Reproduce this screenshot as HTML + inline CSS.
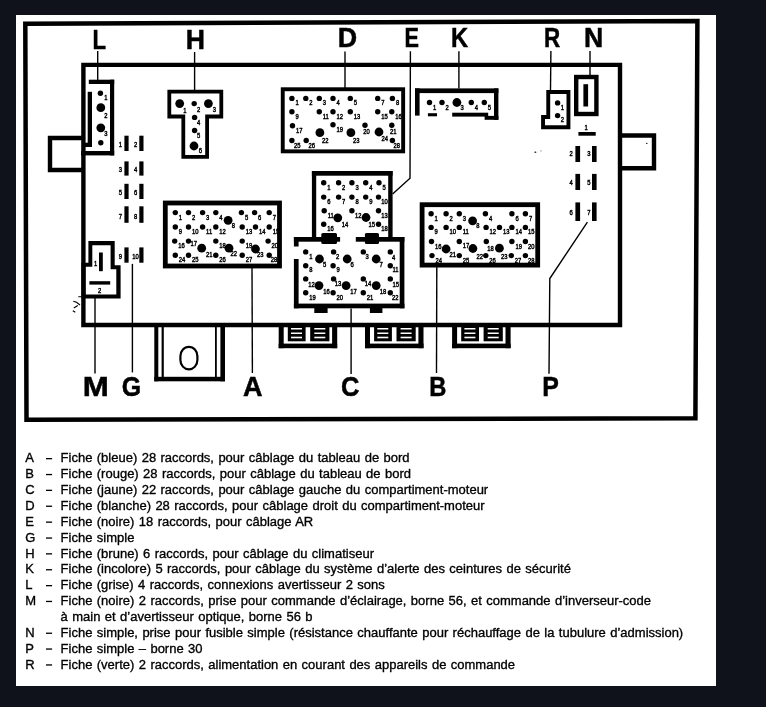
<!DOCTYPE html><html><head><meta charset="utf-8"><style>
html,body{margin:0;padding:0;background:#0f121a;width:766px;height:707px;overflow:hidden}
svg{display:block;will-change:transform}
text{font-family:"Liberation Sans",sans-serif;fill:#000}
.big{font-weight:bold;font-size:27px;stroke:#000;stroke-width:0.5px}
.pl{stroke:#000;stroke-width:0.45px}
.leg{font-size:13.5px;word-spacing:0.83px;stroke:#000;stroke-width:0.35px}
</style></head><body>
<svg width="766" height="707" viewBox="0 0 766 707">
<rect x="0" y="0" width="766" height="707" fill="#0f121a"/>
<rect x="16" y="15" width="700" height="671" fill="#fff"/>
<g fill="#000">
<path d="M25.3,23.7 L697.4,21.1 L695.4,418.3 L26.5,419.7 Z" fill="none" stroke="#000" stroke-width="4.5" stroke-linejoin="miter"/>
<path d="M83.4,64.9 H620 V325 H83.4 Z M620,135.5 H654 V168.2 H620 M83.4,170 H50 V138 H83.4" fill="none" stroke="#000" stroke-width="4.4"/>
<text transform="translate(92.57,49.20) scale(0.820,1)" class="big">L</text>
<text transform="translate(185.77,48.60) scale(0.987,1)" class="big">H</text>
<text transform="translate(337.76,47.40) scale(0.994,1)" class="big">D</text>
<text transform="translate(404.51,47.20) scale(0.803,1)" class="big">E</text>
<text transform="translate(450.97,47.10) scale(0.879,1)" class="big">K</text>
<text transform="translate(544.06,46.90) scale(0.830,1)" class="big">R</text>
<text transform="translate(583.97,46.60) scale(0.987,1)" class="big">N</text>
<text transform="translate(82.86,395.80) scale(1.159,1)" class="big">M</text>
<text transform="translate(121.83,395.80) scale(0.923,1)" class="big">G</text>
<text transform="translate(243.05,395.80) scale(1.000,1)" class="big">A</text>
<text transform="translate(341.11,395.80) scale(0.943,1)" class="big">C</text>
<text transform="translate(429.17,395.80) scale(0.879,1)" class="big">B</text>
<text transform="translate(542.29,395.80) scale(0.922,1)" class="big">P</text>
<path d="M97.7,51.0 L97.7,80.0" fill="none" stroke="#000" stroke-width="1.4"/>
<path d="M194.6,52.0 L194.6,90.0" fill="none" stroke="#000" stroke-width="1.4"/>
<path d="M345.0,51.4 L345.0,88.0" fill="none" stroke="#000" stroke-width="1.4"/>
<path d="M410.4,51.3 L410.0,178.3 L392.6,194.0" fill="none" stroke="#000" stroke-width="1.4"/>
<path d="M458.9,51.3 L458.9,88.4" fill="none" stroke="#000" stroke-width="1.4"/>
<path d="M550.9,51.1 L550.5,90.0" fill="none" stroke="#000" stroke-width="1.4"/>
<path d="M590.0,51.0 L590.0,75.0" fill="none" stroke="#000" stroke-width="1.4"/>
<path d="M95.0,297.0 L95.0,373.5" fill="none" stroke="#000" stroke-width="1.4"/>
<path d="M132.4,263.9 L132.4,372.4" fill="none" stroke="#000" stroke-width="1.4"/>
<path d="M252.0,268.0 L252.4,373.1" fill="none" stroke="#000" stroke-width="1.4"/>
<path d="M351.1,308.5 L351.1,374.0" fill="none" stroke="#000" stroke-width="1.4"/>
<path d="M436.8,267.0 L436.5,373.0" fill="none" stroke="#000" stroke-width="1.4"/>
<path d="M587.4,222.1 L549.8,278.5 L549.0,373.8" fill="none" stroke="#000" stroke-width="1.4"/>
<rect x="88.8" y="79.7" width="25.4" height="4.3"/>
<rect x="110.0" y="79.7" width="4.2" height="75.7"/>
<rect x="81.0" y="151.0" width="33.2" height="4.4"/>
<rect x="87.7" y="91.8" width="4.3" height="55.2"/>
<rect x="83.0" y="142.7" width="9.0" height="4.3"/>
<circle cx="100.4" cy="93.3" r="2.7"/>
<circle cx="100.8" cy="107.7" r="4.4"/>
<circle cx="100.8" cy="127.8" r="4.4"/>
<circle cx="100.8" cy="142.7" r="2.7"/>
<text transform="translate(104.2,100.0) scale(0.8,1)" font-size="7.3" class="pl">1</text>
<text transform="translate(104.2,118.3) scale(0.8,1)" font-size="7.3" class="pl">2</text>
<text transform="translate(104.2,136.3) scale(0.8,1)" font-size="7.3" class="pl">3</text>
<path d="M167.4,89.8 L223.2,89.8 L223.2,118.4 L209.0,118.4 L209.0,158.8 L181.4,158.8 L181.4,118.4 L167.4,118.4Z M171.2,93.6 L219.4,93.6 L219.4,114.6 L205.2,114.6 L205.2,155.0 L185.2,155.0 L185.2,114.6 L171.2,114.6Z" fill-rule="evenodd"/>
<circle cx="179.7" cy="103.6" r="4.4"/>
<circle cx="194.2" cy="103.6" r="2.7"/>
<circle cx="208.4" cy="103.6" r="4.4"/>
<circle cx="194.6" cy="117.4" r="2.7"/>
<circle cx="194.6" cy="130.5" r="2.7"/>
<circle cx="194.0" cy="146.0" r="4.4"/>
<text transform="translate(183.3,112.8) scale(0.8,1)" font-size="7.3" class="pl">1</text>
<text transform="translate(197.0,112.0) scale(0.8,1)" font-size="7.3" class="pl">2</text>
<text transform="translate(212.8,112.0) scale(0.8,1)" font-size="7.3" class="pl">3</text>
<text transform="translate(197.0,124.5) scale(0.8,1)" font-size="7.3" class="pl">4</text>
<text transform="translate(197.0,137.6) scale(0.8,1)" font-size="7.3" class="pl">5</text>
<text transform="translate(198.8,153.0) scale(0.8,1)" font-size="7.3" class="pl">6</text>
<rect x="282.75" y="89.25" width="120.40" height="62.10" fill="none" stroke="#000" stroke-width="3.9"/>
<circle cx="291.9" cy="98.4" r="2.7"/>
<text transform="translate(295.4,105.4) scale(0.8,1)" font-size="7.3" class="pl">1</text>
<circle cx="305.8" cy="98.4" r="2.7"/>
<text transform="translate(309.3,105.4) scale(0.8,1)" font-size="7.3" class="pl">2</text>
<circle cx="319.3" cy="98.4" r="2.7"/>
<text transform="translate(322.8,105.4) scale(0.8,1)" font-size="7.3" class="pl">3</text>
<circle cx="333.0" cy="98.4" r="2.7"/>
<text transform="translate(336.5,105.4) scale(0.8,1)" font-size="7.3" class="pl">4</text>
<circle cx="350.3" cy="98.4" r="2.7"/>
<text transform="translate(353.8,105.4) scale(0.8,1)" font-size="7.3" class="pl">5</text>
<circle cx="377.7" cy="98.4" r="2.7"/>
<text transform="translate(381.2,105.4) scale(0.8,1)" font-size="7.3" class="pl">7</text>
<circle cx="392.4" cy="98.4" r="2.7"/>
<text transform="translate(395.9,105.4) scale(0.8,1)" font-size="7.3" class="pl">8</text>
<circle cx="291.9" cy="111.7" r="2.7"/>
<text transform="translate(295.4,118.7) scale(0.8,1)" font-size="7.3" class="pl">9</text>
<circle cx="319.3" cy="111.7" r="2.7"/>
<text transform="translate(322.8,118.7) scale(0.8,1)" font-size="7.3" class="pl">11</text>
<circle cx="333.0" cy="111.7" r="2.7"/>
<text transform="translate(336.5,118.7) scale(0.8,1)" font-size="7.3" class="pl">12</text>
<circle cx="350.3" cy="111.7" r="2.7"/>
<text transform="translate(353.8,118.7) scale(0.8,1)" font-size="7.3" class="pl">13</text>
<circle cx="377.7" cy="111.7" r="2.7"/>
<text transform="translate(381.2,118.7) scale(0.8,1)" font-size="7.3" class="pl">15</text>
<circle cx="391.8" cy="111.7" r="2.7"/>
<text transform="translate(395.3,118.7) scale(0.8,1)" font-size="7.3" class="pl">16</text>
<circle cx="292.5" cy="125.8" r="2.7"/>
<text transform="translate(296.0,132.8) scale(0.8,1)" font-size="7.3" class="pl">17</text>
<circle cx="333.0" cy="124.8" r="2.7"/>
<text transform="translate(336.5,131.8) scale(0.8,1)" font-size="7.3" class="pl">19</text>
<circle cx="365.0" cy="125.3" r="2.7"/>
<text transform="translate(363.2,133.5) scale(0.8,1)" font-size="7.3" class="pl">20</text>
<circle cx="391.8" cy="125.3" r="2.7"/>
<text transform="translate(390.0,133.5) scale(0.8,1)" font-size="7.3" class="pl">21</text>
<circle cx="319.9" cy="132.7" r="4.4"/>
<text transform="translate(321.9,142.5) scale(0.8,1)" font-size="7.3" class="pl">22</text>
<circle cx="350.9" cy="132.7" r="4.4"/>
<text transform="translate(352.9,142.5) scale(0.8,1)" font-size="7.3" class="pl">23</text>
<circle cx="379.0" cy="132.0" r="4.4"/>
<text transform="translate(381.5,140.6) scale(0.8,1)" font-size="7.3" class="pl">24</text>
<circle cx="291.9" cy="140.5" r="2.7"/>
<text transform="translate(294.1,148.0) scale(0.8,1)" font-size="7.3" class="pl">25</text>
<circle cx="306.2" cy="140.5" r="2.7"/>
<text transform="translate(308.4,148.0) scale(0.8,1)" font-size="7.3" class="pl">26</text>
<circle cx="392.4" cy="140.5" r="2.7"/>
<text transform="translate(393.6,148.0) scale(0.8,1)" font-size="7.3" class="pl">28</text>
<rect x="311.9" y="171.0" width="80.7" height="4.7"/>
<rect x="311.9" y="171.0" width="4.3" height="70.0"/>
<rect x="388.2" y="171.0" width="4.4" height="70.0"/>
<circle cx="323.7" cy="182.7" r="2.7"/>
<text transform="translate(327.2,189.7) scale(0.8,1)" font-size="7.3" class="pl">1</text>
<circle cx="338.6" cy="182.7" r="2.7"/>
<text transform="translate(342.1,189.7) scale(0.8,1)" font-size="7.3" class="pl">2</text>
<circle cx="351.9" cy="182.7" r="2.7"/>
<text transform="translate(355.4,189.7) scale(0.8,1)" font-size="7.3" class="pl">3</text>
<circle cx="365.7" cy="182.7" r="2.7"/>
<text transform="translate(369.2,189.7) scale(0.8,1)" font-size="7.3" class="pl">4</text>
<circle cx="379.0" cy="182.7" r="2.7"/>
<text transform="translate(382.5,189.7) scale(0.8,1)" font-size="7.3" class="pl">5</text>
<circle cx="323.7" cy="197.1" r="2.7"/>
<text transform="translate(327.2,204.1) scale(0.8,1)" font-size="7.3" class="pl">6</text>
<circle cx="338.6" cy="197.1" r="2.7"/>
<text transform="translate(342.1,204.1) scale(0.8,1)" font-size="7.3" class="pl">7</text>
<circle cx="351.9" cy="197.1" r="2.7"/>
<text transform="translate(355.4,204.1) scale(0.8,1)" font-size="7.3" class="pl">8</text>
<circle cx="365.7" cy="197.1" r="2.7"/>
<text transform="translate(369.2,204.1) scale(0.8,1)" font-size="7.3" class="pl">9</text>
<circle cx="378.5" cy="197.1" r="2.7"/>
<text transform="translate(381.3,204.1) scale(0.8,1)" font-size="7.3" class="pl">10</text>
<circle cx="324.2" cy="210.7" r="2.7"/>
<text transform="translate(327.7,217.7) scale(0.8,1)" font-size="7.3" class="pl">11</text>
<circle cx="351.9" cy="210.7" r="2.7"/>
<text transform="translate(354.9,217.7) scale(0.8,1)" font-size="7.3" class="pl">12</text>
<circle cx="378.5" cy="210.7" r="2.7"/>
<text transform="translate(381.3,217.7) scale(0.8,1)" font-size="7.3" class="pl">13</text>
<circle cx="337.8" cy="217.8" r="4.4"/>
<text transform="translate(341.7,226.7) scale(0.8,1)" font-size="7.3" class="pl">14</text>
<circle cx="366.0" cy="217.5" r="4.4"/>
<text transform="translate(368.5,227.2) scale(0.8,1)" font-size="7.3" class="pl">15</text>
<circle cx="323.7" cy="224.2" r="2.7"/>
<text transform="translate(327.2,231.2) scale(0.8,1)" font-size="7.3" class="pl">16</text>
<circle cx="378.5" cy="224.2" r="2.7"/>
<text transform="translate(381.3,231.2) scale(0.8,1)" font-size="7.3" class="pl">18</text>
<rect x="293.9" y="237.0" width="46.2" height="4.7"/>
<rect x="355.8" y="237.0" width="48.6" height="4.7"/>
<rect x="293.9" y="237.0" width="4.7" height="9.5"/>
<rect x="293.9" y="259.0" width="4.7" height="49.3"/>
<rect x="399.7" y="237.0" width="4.7" height="71.3"/>
<rect x="293.9" y="303.6" width="110.5" height="4.7"/>
<rect x="321.3" y="233.1" width="15.7" height="11" rx="1.5"/>
<rect x="364.9" y="233.1" width="14.1" height="11" rx="1.5"/>
<rect x="314.3" y="307.0" width="13.3" height="6.0"/>
<rect x="369.9" y="307.0" width="12.5" height="6.0"/>
<circle cx="305.7" cy="251.9" r="2.7"/>
<text transform="translate(309.2,258.9) scale(0.8,1)" font-size="7.3" class="pl">1</text>
<circle cx="333.6" cy="251.9" r="2.7"/>
<text transform="translate(335.9,259.2) scale(0.8,1)" font-size="7.3" class="pl">2</text>
<circle cx="363.3" cy="251.9" r="2.7"/>
<text transform="translate(365.6,258.9) scale(0.8,1)" font-size="7.3" class="pl">3</text>
<circle cx="390.3" cy="251.9" r="2.7"/>
<text transform="translate(391.9,259.5) scale(0.8,1)" font-size="7.3" class="pl">4</text>
<circle cx="319.5" cy="259.0" r="4.4"/>
<text transform="translate(322.9,266.5) scale(0.8,1)" font-size="7.3" class="pl">5</text>
<circle cx="347.2" cy="259.0" r="4.4"/>
<text transform="translate(350.6,266.5) scale(0.8,1)" font-size="7.3" class="pl">6</text>
<circle cx="376.2" cy="259.0" r="4.4"/>
<text transform="translate(379.6,266.5) scale(0.8,1)" font-size="7.3" class="pl">7</text>
<circle cx="305.7" cy="265.7" r="2.7"/>
<text transform="translate(309.2,271.5) scale(0.8,1)" font-size="7.3" class="pl">8</text>
<circle cx="333.1" cy="265.7" r="2.7"/>
<text transform="translate(336.6,271.5) scale(0.8,1)" font-size="7.3" class="pl">9</text>
<circle cx="390.3" cy="265.7" r="2.7"/>
<text transform="translate(392.5,271.5) scale(0.8,1)" font-size="7.3" class="pl">11</text>
<circle cx="305.7" cy="278.9" r="2.7"/>
<text transform="translate(308.2,287.2) scale(0.8,1)" font-size="7.3" class="pl">12</text>
<circle cx="333.6" cy="278.9" r="2.7"/>
<text transform="translate(334.8,285.9) scale(0.8,1)" font-size="7.3" class="pl">13</text>
<circle cx="363.3" cy="278.9" r="2.7"/>
<text transform="translate(364.8,285.9) scale(0.8,1)" font-size="7.3" class="pl">14</text>
<circle cx="390.3" cy="278.9" r="2.7"/>
<text transform="translate(392.5,286.7) scale(0.8,1)" font-size="7.3" class="pl">15</text>
<circle cx="319.0" cy="285.6" r="4.4"/>
<text transform="translate(323.2,294.2) scale(0.8,1)" font-size="7.3" class="pl">16</text>
<circle cx="346.1" cy="285.6" r="4.4"/>
<text transform="translate(350.3,293.8) scale(0.8,1)" font-size="7.3" class="pl">17</text>
<circle cx="376.2" cy="285.6" r="4.4"/>
<text transform="translate(379.7,294.2) scale(0.8,1)" font-size="7.3" class="pl">18</text>
<circle cx="305.7" cy="292.7" r="2.7"/>
<text transform="translate(309.2,299.7) scale(0.8,1)" font-size="7.3" class="pl">19</text>
<circle cx="333.1" cy="292.7" r="2.7"/>
<text transform="translate(336.6,299.7) scale(0.8,1)" font-size="7.3" class="pl">20</text>
<circle cx="363.3" cy="292.7" r="2.7"/>
<text transform="translate(366.8,299.7) scale(0.8,1)" font-size="7.3" class="pl">21</text>
<circle cx="390.3" cy="292.7" r="2.7"/>
<text transform="translate(392.1,300.2) scale(0.8,1)" font-size="7.3" class="pl">22</text>
<rect x="415.0" y="88.4" width="83.4" height="4.7"/>
<rect x="415.0" y="88.4" width="4.6" height="27.2"/>
<rect x="494.0" y="88.4" width="4.4" height="31.4"/>
<rect x="452.2" y="112.7" width="36.0" height="3.9"/>
<rect x="484.6" y="115.9" width="13.8" height="3.9"/>
<rect x="427.9" y="113.2" width="9.1" height="3.1"/>
<circle cx="429.5" cy="102.5" r="2.7"/>
<text transform="translate(433.0,109.5) scale(0.8,1)" font-size="7.3" class="pl">1</text>
<circle cx="442.0" cy="102.5" r="2.7"/>
<text transform="translate(445.5,109.5) scale(0.8,1)" font-size="7.3" class="pl">2</text>
<circle cx="456.9" cy="102.5" r="4.4"/>
<text transform="translate(460.5,110.0) scale(0.8,1)" font-size="7.3" class="pl">3</text>
<circle cx="471.3" cy="102.5" r="2.7"/>
<text transform="translate(474.8,109.5) scale(0.8,1)" font-size="7.3" class="pl">4</text>
<circle cx="484.3" cy="102.5" r="2.7"/>
<text transform="translate(487.8,109.5) scale(0.8,1)" font-size="7.3" class="pl">5</text>
<path d="M546.3,90.0 L570.4,90.0 L570.4,129.2 L541.1,129.2 L541.1,115.1 L546.3,115.1Z M550.2,93.9 L566.5,93.9 L566.5,125.3 L545.0,125.3 L545.0,119.0 L550.2,119.0Z" fill-rule="evenodd"/>
<circle cx="557.6" cy="102.9" r="2.7"/>
<circle cx="557.6" cy="115.6" r="2.7"/>
<text transform="translate(560.8,109.6) scale(0.8,1)" font-size="7.3" class="pl">1</text>
<text transform="translate(560.8,122.2) scale(0.8,1)" font-size="7.3" class="pl">2</text>
<rect x="576.20" y="77.00" width="20.20" height="37.00" fill="none" stroke="#000" stroke-width="4.4"/>
<rect x="583.4" y="84.2" width="4.7" height="22.3"/>
<rect x="124.4" y="135.7" width="4.2" height="15.3"/>
<rect x="139.3" y="135.7" width="4.2" height="15.3"/>
<text transform="translate(120.3,147.2) scale(0.8,1)" font-size="7.3" class="pl" text-anchor="middle">1</text>
<text transform="translate(135.6,147.2) scale(0.8,1)" font-size="7.3" class="pl" text-anchor="middle">2</text>
<rect x="124.4" y="161.4" width="4.2" height="14.2"/>
<rect x="139.3" y="161.4" width="4.2" height="14.2"/>
<text transform="translate(120.3,172.4) scale(0.8,1)" font-size="7.3" class="pl" text-anchor="middle">3</text>
<text transform="translate(135.6,172.4) scale(0.8,1)" font-size="7.3" class="pl" text-anchor="middle">4</text>
<rect x="124.4" y="183.8" width="4.2" height="15.2"/>
<rect x="139.3" y="183.8" width="4.2" height="15.2"/>
<text transform="translate(120.3,195.3) scale(0.8,1)" font-size="7.3" class="pl" text-anchor="middle">5</text>
<text transform="translate(135.6,195.3) scale(0.8,1)" font-size="7.3" class="pl" text-anchor="middle">6</text>
<rect x="124.4" y="206.3" width="4.2" height="16.5"/>
<rect x="139.3" y="206.3" width="4.2" height="16.5"/>
<text transform="translate(120.3,218.5) scale(0.8,1)" font-size="7.3" class="pl" text-anchor="middle">7</text>
<text transform="translate(135.6,218.5) scale(0.8,1)" font-size="7.3" class="pl" text-anchor="middle">8</text>
<rect x="124.4" y="247.4" width="4.2" height="15.3"/>
<rect x="139.3" y="247.4" width="4.2" height="15.3"/>
<text transform="translate(120.3,259.0) scale(0.8,1)" font-size="7.3" class="pl" text-anchor="middle">9</text>
<text transform="translate(135.6,259.0) scale(0.8,1)" font-size="7.3" class="pl" text-anchor="middle">10</text>
<rect x="578.4" y="132.0" width="17.3" height="3.7"/>
<text transform="translate(586.2,130) scale(0.8,1)" font-size="7.3" class="pl" text-anchor="middle">1</text>
<rect x="575.4" y="146.0" width="4.7" height="16.0"/>
<rect x="592.0" y="146.0" width="4.6" height="16.0"/>
<text transform="translate(571.1,155.5) scale(0.8,1)" font-size="7.3" class="pl" text-anchor="middle">2</text>
<text transform="translate(589,155.5) scale(0.8,1)" font-size="7.3" class="pl" text-anchor="middle">3</text>
<rect x="575.4" y="173.9" width="4.7" height="16.1"/>
<rect x="592.0" y="173.9" width="4.6" height="16.1"/>
<text transform="translate(571.1,185.2) scale(0.8,1)" font-size="7.3" class="pl" text-anchor="middle">4</text>
<text transform="translate(589,185.2) scale(0.8,1)" font-size="7.3" class="pl" text-anchor="middle">5</text>
<rect x="575.4" y="202.4" width="4.7" height="18.6"/>
<rect x="592.0" y="202.4" width="4.6" height="18.6"/>
<text transform="translate(571.1,215.0) scale(0.8,1)" font-size="7.3" class="pl" text-anchor="middle">6</text>
<text transform="translate(589,215.0) scale(0.8,1)" font-size="7.3" class="pl" text-anchor="middle">7</text>
<path d="M88.4,241.1 L114.7,241.1 L114.7,265.2 L120.6,265.2 L120.6,298.6 L81.5,298.6 L81.5,262.7 L88.4,262.7Z M92.3,245.2 L110.6,245.2 L110.6,269.3 L116.3,269.3 L116.3,294.4 L85.6,294.4 L85.6,266.8 L92.3,266.8Z" fill-rule="evenodd"/>
<rect x="99.0" y="252.5" width="3.8" height="18.7"/>
<rect x="89.4" y="281.2" width="20.8" height="3.4"/>
<text transform="translate(95.7,265.5) scale(0.8,1)" font-size="7.3" class="pl" text-anchor="middle">1</text>
<text transform="translate(99.6,293) scale(0.8,1)" font-size="7.3" class="pl" text-anchor="middle">2</text>
<rect x="165.30" y="203.00" width="114.20" height="63.00" fill="none" stroke="#000" stroke-width="4.8"/>
<circle cx="175.3" cy="212.6" r="2.7"/>
<text transform="translate(178.8,219.6) scale(0.8,1)" font-size="7.3" class="pl">1</text>
<circle cx="188.5" cy="212.6" r="2.7"/>
<text transform="translate(192.0,219.6) scale(0.8,1)" font-size="7.3" class="pl">2</text>
<circle cx="202.6" cy="212.6" r="2.7"/>
<text transform="translate(206.1,219.6) scale(0.8,1)" font-size="7.3" class="pl">3</text>
<circle cx="215.8" cy="212.6" r="2.7"/>
<text transform="translate(219.3,219.6) scale(0.8,1)" font-size="7.3" class="pl">4</text>
<circle cx="241.4" cy="212.6" r="2.7"/>
<text transform="translate(244.9,219.6) scale(0.8,1)" font-size="7.3" class="pl">5</text>
<circle cx="254.6" cy="212.6" r="2.7"/>
<text transform="translate(258.1,219.6) scale(0.8,1)" font-size="7.3" class="pl">6</text>
<circle cx="269.2" cy="212.6" r="2.7"/>
<text transform="translate(272.7,219.6) scale(0.8,1)" font-size="7.3" class="pl">7</text>
<circle cx="228.1" cy="220.3" r="4.4"/>
<text transform="translate(231.7,227.9) scale(0.8,1)" font-size="7.3" class="pl">8</text>
<circle cx="175.3" cy="227.0" r="2.7"/>
<text transform="translate(178.8,234.0) scale(0.8,1)" font-size="7.3" class="pl">9</text>
<circle cx="188.5" cy="227.0" r="2.7"/>
<text transform="translate(192.0,234.0) scale(0.8,1)" font-size="7.3" class="pl">10</text>
<circle cx="202.6" cy="227.0" r="2.7"/>
<text transform="translate(206.1,234.0) scale(0.8,1)" font-size="7.3" class="pl">11</text>
<circle cx="215.8" cy="227.0" r="2.7"/>
<text transform="translate(219.3,234.0) scale(0.8,1)" font-size="7.3" class="pl">12</text>
<circle cx="242.2" cy="227.0" r="2.7"/>
<text transform="translate(245.7,234.0) scale(0.8,1)" font-size="7.3" class="pl">13</text>
<circle cx="255.5" cy="227.0" r="2.7"/>
<text transform="translate(259.0,234.0) scale(0.8,1)" font-size="7.3" class="pl">14</text>
<circle cx="269.2" cy="227.0" r="2.7"/>
<text transform="translate(272.7,234.0) scale(0.8,1)" font-size="7.3" class="pl">15</text>
<circle cx="174.7" cy="241.1" r="2.7"/>
<text transform="translate(178.2,248.1) scale(0.8,1)" font-size="7.3" class="pl">16</text>
<circle cx="188.5" cy="241.1" r="2.7"/>
<text transform="translate(190.5,246.1) scale(0.8,1)" font-size="7.3" class="pl">17</text>
<circle cx="215.8" cy="241.1" r="2.7"/>
<text transform="translate(219.3,248.1) scale(0.8,1)" font-size="7.3" class="pl">18</text>
<circle cx="242.2" cy="241.1" r="2.7"/>
<text transform="translate(245.7,248.1) scale(0.8,1)" font-size="7.3" class="pl">19</text>
<circle cx="268.1" cy="241.1" r="2.7"/>
<text transform="translate(271.6,248.1) scale(0.8,1)" font-size="7.3" class="pl">20</text>
<circle cx="201.7" cy="248.2" r="4.4"/>
<text transform="translate(206.1,257.0) scale(0.8,1)" font-size="7.3" class="pl">21</text>
<circle cx="229.0" cy="248.2" r="4.4"/>
<text transform="translate(230.5,255.8) scale(0.8,1)" font-size="7.3" class="pl">22</text>
<circle cx="255.5" cy="249.0" r="4.4"/>
<text transform="translate(257.0,256.5) scale(0.8,1)" font-size="7.3" class="pl">23</text>
<circle cx="175.3" cy="255.2" r="2.7"/>
<text transform="translate(178.8,262.2) scale(0.8,1)" font-size="7.3" class="pl">24</text>
<circle cx="188.5" cy="255.2" r="2.7"/>
<text transform="translate(192.0,262.2) scale(0.8,1)" font-size="7.3" class="pl">25</text>
<circle cx="215.8" cy="255.2" r="2.7"/>
<text transform="translate(219.3,262.2) scale(0.8,1)" font-size="7.3" class="pl">26</text>
<circle cx="242.2" cy="255.2" r="2.7"/>
<text transform="translate(245.7,262.2) scale(0.8,1)" font-size="7.3" class="pl">27</text>
<circle cx="269.2" cy="255.2" r="2.7"/>
<text transform="translate(270.7,262.2) scale(0.8,1)" font-size="7.3" class="pl">28</text>
<rect x="422.10" y="204.70" width="115.60" height="60.40" fill="none" stroke="#000" stroke-width="4.8"/>
<circle cx="431.1" cy="213.8" r="2.7"/>
<text transform="translate(434.6,220.8) scale(0.8,1)" font-size="7.3" class="pl">1</text>
<circle cx="446.1" cy="213.8" r="2.7"/>
<text transform="translate(449.6,220.8) scale(0.8,1)" font-size="7.3" class="pl">2</text>
<circle cx="459.3" cy="213.8" r="2.7"/>
<text transform="translate(462.8,220.8) scale(0.8,1)" font-size="7.3" class="pl">3</text>
<circle cx="485.4" cy="213.8" r="2.7"/>
<text transform="translate(488.9,220.8) scale(0.8,1)" font-size="7.3" class="pl">4</text>
<circle cx="511.9" cy="213.8" r="2.7"/>
<text transform="translate(515.4,220.8) scale(0.8,1)" font-size="7.3" class="pl">6</text>
<circle cx="525.4" cy="213.8" r="2.7"/>
<text transform="translate(528.9,220.8) scale(0.8,1)" font-size="7.3" class="pl">7</text>
<circle cx="472.6" cy="220.8" r="4.4"/>
<text transform="translate(476.2,228.4) scale(0.8,1)" font-size="7.3" class="pl">8</text>
<circle cx="431.1" cy="227.4" r="2.7"/>
<text transform="translate(434.6,234.4) scale(0.8,1)" font-size="7.3" class="pl">9</text>
<circle cx="446.1" cy="227.4" r="2.7"/>
<text transform="translate(449.6,234.4) scale(0.8,1)" font-size="7.3" class="pl">10</text>
<circle cx="459.3" cy="227.4" r="2.7"/>
<text transform="translate(462.8,234.4) scale(0.8,1)" font-size="7.3" class="pl">11</text>
<circle cx="486.1" cy="227.4" r="2.7"/>
<text transform="translate(489.6,234.4) scale(0.8,1)" font-size="7.3" class="pl">12</text>
<circle cx="499.5" cy="227.4" r="2.7"/>
<text transform="translate(503.0,234.4) scale(0.8,1)" font-size="7.3" class="pl">13</text>
<circle cx="511.9" cy="227.4" r="2.7"/>
<text transform="translate(515.4,234.4) scale(0.8,1)" font-size="7.3" class="pl">14</text>
<circle cx="525.4" cy="227.4" r="2.7"/>
<text transform="translate(527.9,234.4) scale(0.8,1)" font-size="7.3" class="pl">15</text>
<circle cx="431.5" cy="241.5" r="2.7"/>
<text transform="translate(435.0,248.5) scale(0.8,1)" font-size="7.3" class="pl">16</text>
<circle cx="459.3" cy="241.5" r="2.7"/>
<text transform="translate(462.8,247.5) scale(0.8,1)" font-size="7.3" class="pl">17</text>
<circle cx="486.3" cy="241.5" r="2.7"/>
<text transform="translate(487.3,251.0) scale(0.8,1)" font-size="7.3" class="pl">18</text>
<circle cx="511.9" cy="241.5" r="2.7"/>
<text transform="translate(515.4,248.5) scale(0.8,1)" font-size="7.3" class="pl">19</text>
<circle cx="525.4" cy="241.5" r="2.7"/>
<text transform="translate(527.9,248.5) scale(0.8,1)" font-size="7.3" class="pl">20</text>
<circle cx="446.1" cy="249.0" r="4.4"/>
<text transform="translate(449.6,257.0) scale(0.8,1)" font-size="7.3" class="pl">21</text>
<circle cx="472.9" cy="248.5" r="4.4"/>
<text transform="translate(476.4,258.5) scale(0.8,1)" font-size="7.3" class="pl">22</text>
<circle cx="499.4" cy="248.2" r="4.4"/>
<text transform="translate(501.0,258.8) scale(0.8,1)" font-size="7.3" class="pl">23</text>
<circle cx="432.0" cy="255.6" r="2.7"/>
<text transform="translate(435.5,262.6) scale(0.8,1)" font-size="7.3" class="pl">24</text>
<circle cx="459.3" cy="255.6" r="2.7"/>
<text transform="translate(462.8,262.6) scale(0.8,1)" font-size="7.3" class="pl">25</text>
<circle cx="485.8" cy="255.6" r="2.7"/>
<text transform="translate(489.3,262.6) scale(0.8,1)" font-size="7.3" class="pl">26</text>
<circle cx="511.3" cy="255.6" r="2.7"/>
<text transform="translate(514.8,262.6) scale(0.8,1)" font-size="7.3" class="pl">27</text>
<circle cx="525.4" cy="255.6" r="2.7"/>
<text transform="translate(527.9,262.6) scale(0.8,1)" font-size="7.3" class="pl">28</text>
<rect x="154.3" y="325.0" width="4.0" height="56.3"/>
<rect x="220.4" y="325.0" width="4.6" height="56.3"/>
<rect x="154.3" y="376.8" width="70.7" height="4.5"/>
<rect x="161.6" y="325.0" width="2.2" height="52.0"/>
<rect x="215.0" y="325.0" width="1.8" height="52.0"/>
<rect x="180.4" y="346.8" width="17" height="22.6" rx="8.5" ry="9.5" fill="none" stroke="#000" stroke-width="2.2"/>
<path d="M78.3,296.8 h2.8 M73.3,301.3 L76.5,302.3 L80,305 M73.8,307.9 L77.8,305.6 M72.8,310.8 L75.3,312.2" stroke="#000" stroke-width="1.1" fill="none"/>
<rect x="278.7" y="325.0" width="5.0" height="23.2"/>
<rect x="332.1" y="325.0" width="5.1" height="23.2"/>
<rect x="278.7" y="343.6" width="58.5" height="4.6"/>
<rect x="287.8" y="325.0" width="17.8" height="16.3"/>
<rect x="291.0" y="328" width="11.0" height="1.5" fill="#fff"/>
<rect x="291.0" y="332.5" width="11.0" height="1.5" fill="#fff"/>
<rect x="291.0" y="336.7" width="11.0" height="1.6" fill="#fff"/>
<rect x="310.2" y="325.0" width="19.2" height="16.3"/>
<rect x="314.3" y="328" width="11.0" height="1.5" fill="#fff"/>
<rect x="314.3" y="332.5" width="11.0" height="1.5" fill="#fff"/>
<rect x="314.3" y="336.7" width="11.0" height="1.6" fill="#fff"/>
<rect x="365.0" y="325.0" width="5.0" height="23.2"/>
<rect x="418.4" y="325.0" width="5.1" height="23.2"/>
<rect x="365.0" y="343.6" width="58.5" height="4.6"/>
<rect x="374.1" y="325.0" width="17.8" height="16.3"/>
<rect x="377.3" y="328" width="11.0" height="1.5" fill="#fff"/>
<rect x="377.3" y="332.5" width="11.0" height="1.5" fill="#fff"/>
<rect x="377.3" y="336.7" width="11.0" height="1.6" fill="#fff"/>
<rect x="396.5" y="325.0" width="19.2" height="16.3"/>
<rect x="400.6" y="328" width="11.0" height="1.5" fill="#fff"/>
<rect x="400.6" y="332.5" width="11.0" height="1.5" fill="#fff"/>
<rect x="400.6" y="336.7" width="11.0" height="1.6" fill="#fff"/>
<rect x="452.1" y="325.0" width="5.0" height="23.2"/>
<rect x="505.5" y="325.0" width="5.1" height="23.2"/>
<rect x="452.1" y="343.6" width="58.5" height="4.6"/>
<rect x="461.2" y="325.0" width="17.8" height="16.3"/>
<rect x="464.4" y="328" width="11.0" height="1.5" fill="#fff"/>
<rect x="464.4" y="332.5" width="11.0" height="1.5" fill="#fff"/>
<rect x="464.4" y="336.7" width="11.0" height="1.6" fill="#fff"/>
<rect x="483.6" y="325.0" width="19.2" height="16.3"/>
<rect x="487.7" y="328" width="11.0" height="1.5" fill="#fff"/>
<rect x="487.7" y="332.5" width="11.0" height="1.5" fill="#fff"/>
<rect x="487.7" y="336.7" width="11.0" height="1.6" fill="#fff"/>
<ellipse cx="535.4" cy="152.2" rx="1" ry="0.6"/>
<rect x="540.4" y="150.3" width="1.1" height="1.2" fill="#888"/>
<circle cx="646.8" cy="143.4" r="0.7"/>
</g>
<text transform="translate(25.2,462.30) scale(0.963,1)" class="leg">A</text>
<rect x="46" y="458.0" width="6.1" height="1.3"/>
<text transform="translate(60.6,462.30) scale(0.963,1)" class="leg">Fiche (bleue) 28 raccords, pour câblage du tableau de bord</text>
<text transform="translate(25.2,478.17) scale(0.963,1)" class="leg">B</text>
<rect x="46" y="473.9" width="6.1" height="1.3"/>
<text transform="translate(60.6,478.17) scale(0.963,1)" class="leg">Fiche (rouge) 28 raccords, pour câblage du tableau de bord</text>
<text transform="translate(25.2,494.04) scale(0.963,1)" class="leg">C</text>
<rect x="46" y="489.7" width="6.1" height="1.3"/>
<text transform="translate(60.6,494.04) scale(0.963,1)" class="leg">Fiche (jaune) 22 raccords, pour câblage gauche du compartiment-moteur</text>
<text transform="translate(25.2,509.91) scale(0.963,1)" class="leg">D</text>
<rect x="46" y="505.6" width="6.1" height="1.3"/>
<text transform="translate(60.6,509.91) scale(0.963,1)" class="leg">Fiche (blanche) 28 raccords, pour câblage droit du compartiment-moteur</text>
<text transform="translate(25.2,525.78) scale(0.963,1)" class="leg">E</text>
<rect x="46" y="521.5" width="6.1" height="1.3"/>
<text transform="translate(60.6,525.78) scale(0.963,1)" class="leg">Fiche (noire) 18 raccords, pour câblage AR</text>
<text transform="translate(25.2,541.65) scale(0.963,1)" class="leg">G</text>
<rect x="46" y="537.4" width="6.1" height="1.3"/>
<text transform="translate(60.6,541.65) scale(0.963,1)" class="leg">Fiche simple</text>
<text transform="translate(25.2,557.52) scale(0.963,1)" class="leg">H</text>
<rect x="46" y="553.2" width="6.1" height="1.3"/>
<text transform="translate(60.6,557.52) scale(0.963,1)" class="leg">Fiche (brune) 6 raccords, pour câblage du climatiseur</text>
<text transform="translate(25.2,573.39) scale(0.963,1)" class="leg">K</text>
<rect x="46" y="569.1" width="6.1" height="1.3"/>
<text transform="translate(60.6,573.39) scale(0.963,1)" class="leg">Fiche (incolore) 5 raccords, pour câblage du système d’alerte des ceintures de sécurité</text>
<text transform="translate(25.2,589.26) scale(0.963,1)" class="leg">L</text>
<rect x="46" y="585.0" width="6.1" height="1.3"/>
<text transform="translate(60.6,589.26) scale(0.963,1)" class="leg">Fiche (grise) 4 raccords, connexions avertisseur 2 sons</text>
<text transform="translate(25.2,605.13) scale(0.963,1)" class="leg">M</text>
<rect x="46" y="600.8" width="6.1" height="1.3"/>
<text transform="translate(60.6,605.13) scale(0.963,1)" class="leg">Fiche (noire) 2 raccords, prise pour commande d’éclairage, borne 56, et commande d’inverseur-code</text>
<text transform="translate(60.6,621.00) scale(0.963,1)" class="leg">à main et d’avertisseur optique, borne 56 b</text>
<text transform="translate(25.2,636.87) scale(0.963,1)" class="leg">N</text>
<rect x="46" y="632.6" width="6.1" height="1.3"/>
<text transform="translate(60.6,636.87) scale(0.963,1)" class="leg">Fiche simple, prise pour fusible simple (résistance chauffante pour réchauffage de la tubulure d’admission)</text>
<text transform="translate(25.2,652.74) scale(0.963,1)" class="leg">P</text>
<rect x="46" y="648.4" width="6.1" height="1.3"/>
<text transform="translate(60.6,652.74) scale(0.963,1)" class="leg">Fiche simple – borne 30</text>
<text transform="translate(25.2,668.61) scale(0.963,1)" class="leg">R</text>
<rect x="46" y="664.3" width="6.1" height="1.3"/>
<text transform="translate(60.6,668.61) scale(0.963,1)" class="leg">Fiche (verte) 2 raccords, alimentation en courant des appareils de commande</text>
</svg></body></html>
